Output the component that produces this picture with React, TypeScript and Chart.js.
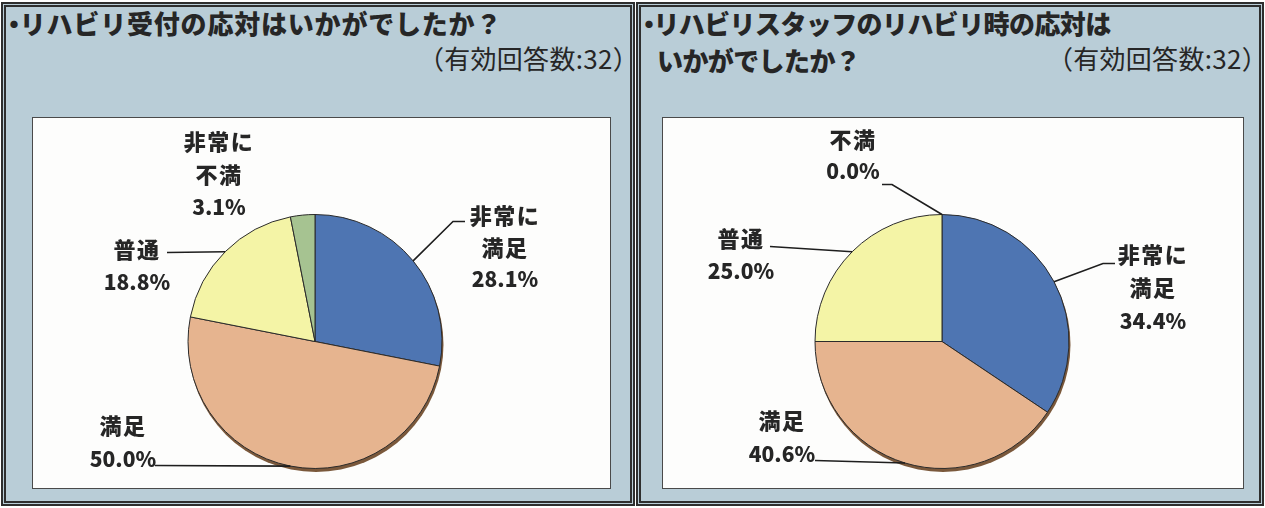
import React, { useEffect, useRef } from 'react';
import { Chart, registerables } from 'chart.js';

Chart.register(...registerables);

// ---------- data ----------
const q1Title = ['・リハビリ受付の応対はいかがでしたか？'];
const q1Categories = ['非常に満足', '満足', '普通', '非常に不満'];
const q1Values = [28.1, 50.0, 18.8, 3.1];

const q2Title = ['・リハビリスタッフのリハビリ時の応対は', 'いかがでしたか？'];
const q2Categories = ['非常に満足', '満足', '普通', '不満'];
const q2Values = [34.4, 40.6, 25.0, 0.0];

const responseNote = '（有効回答数:32）';

// ---------- styles ----------
const sliceColors: Record<string, string> = {
  '非常に満足': '#4e75b2',
  '満足': '#e6b48f',
  '普通': '#f4f4a6',
  '不満': '#b9a0c8',
  '非常に不満': '#a6c391',
};

const PANEL_BG = '#b9cdd7';
const TEXT = '#262626';
const FONT = '"Noto Sans CJK JP", "Noto Sans", sans-serif';

type LabelLayout = { dx: number; dy: number; lh: number; leader?: [number, number][] };

// label offsets relative to the pie centre (layout only)
const q1Layout: LabelLayout[] = [
  { dx: 190, dy: -126, lh: 32, leader: [[138, -120], [150, -120]] },
  { dx: -192, dy: 84, lh: 34, leader: [[-160, 124]] },
  { dx: -178, dy: -92, lh: 33, leader: [[-148, -89]] },
  { dx: -96, dy: -200, lh: 33 },
];
const q2Layout: LabelLayout[] = [
  { dx: 211, dy: -87, lh: 33.5, leader: [[161, -78], [173, -78]] },
  { dx: -160, dy: 79, lh: 34, leader: [[-127, 119]] },
  { dx: -201, dy: -103, lh: 33, leader: [[-172, -95]] },
  { dx: -89, dy: -202, lh: 32, leader: [[-50, -157], [-60, -157]] },
];

function wrapLabel(name: string): string[] {
  if (name.startsWith('非常に') && name.length > 3) return ['非常に', name.slice(3)];
  return [name];
}

type PieProps = {
  categories: string[];
  values: number[];
  layout: LabelLayout[];
  width: number;
  height: number;
  cx: number;
  cy: number;
  r: number;
};

function PieCanvas({ categories, values, layout, width, height, cx, cy, r }: PieProps) {
  const ref = useRef<HTMLCanvasElement | null>(null);
  useEffect(() => {
    if (!ref.current) return;
    const areaH = 2 * r + 1;
    const areaW = 2 * r + 40;
    const padTop = Math.round(cy - areaH / 2);
    const padLeft = Math.round(cx - areaW / 2);
    const plugin = {
      id: 'sliceLabels',
      beforeDatasetsDraw(chart: any) {
        const arc = chart.getDatasetMeta(0).data[0];
        if (!arc) return;
        const { x, y, outerRadius } = arc.getProps(['x', 'y', 'outerRadius'], true);
        const ctx = chart.ctx;
        ctx.save();
        ctx.fillStyle = '#7a583b';
        ctx.beginPath();
        ctx.arc(x + 1, y + 3, outerRadius + 0.5, 0, Math.PI * 2);
        ctx.fill();
        ctx.restore();
      },
      afterDatasetsDraw(chart: any) {
        const ctx = chart.ctx;
        const meta = chart.getDatasetMeta(0);
        ctx.save();
        meta.data.forEach((arc: any, i: number) => {
          const L = layout[i];
          if (!L) return;
          const { x, y, startAngle, endAngle, outerRadius } = arc.getProps(
            ['x', 'y', 'startAngle', 'endAngle', 'outerRadius'],
            true
          );
          const mid = (startAngle + endAngle) / 2;
          const ex = x + Math.cos(mid) * outerRadius;
          const ey = y + Math.sin(mid) * outerRadius;
          if (L.leader) {
            ctx.strokeStyle = '#1e1e1e';
            ctx.lineWidth = 1.6;
            ctx.beginPath();
            ctx.moveTo(ex, ey);
            L.leader.forEach(([px, py]) => ctx.lineTo(x + px, y + py));
            ctx.stroke();
          }
          const lines = [...wrapLabel(categories[i]), values[i].toFixed(1) + '%'];
          ctx.fillStyle = TEXT;
          ctx.textAlign = 'center';
          ctx.textBaseline = 'middle';
          lines.forEach((t, k) => {
            const isPct = k === lines.length - 1;
            ctx.font = isPct ? `900 21px ${FONT}` : `900 22px ${FONT}`;
            try { (ctx as any).letterSpacing = isPct ? '0px' : '1.5px'; } catch (e) {}
            ctx.fillText(t, x + L.dx, y + L.dy + k * L.lh);
          });
        });
        ctx.restore();
      },
    };
    const chart = new Chart(ref.current, {
      type: 'pie',
      data: {
        labels: categories,
        datasets: [
          {
            data: values,
            backgroundColor: categories.map((c) => sliceColors[c]),
            borderColor: '#2b2b2b',
            borderWidth: 1,
          },
        ],
      },
      options: {
        responsive: false,
        animation: false,
        devicePixelRatio: 1,
        layout: {
          padding: {
            top: padTop,
            bottom: height - padTop - areaH,
            left: padLeft,
            right: width - padLeft - areaW,
          },
        },
        plugins: {
          legend: { display: false },
          tooltip: { enabled: false },
          title: { display: false },
        },
      },
      plugins: [plugin],
    });
    return () => chart.destroy();
  }, []);
  return (
    <canvas
      ref={ref}
      width={width}
      height={height}
      style={{ display: 'block', width, height, background: '#fdfdfc' }}
    />
  );
}

type PanelProps = {
  left: number;
  width: number;
  title: string[];
  titleSpacing: number;
  plotLeft: number;
  plotWidth: number;
  children: React.ReactNode;
};

function Panel({ left, width, title, titleSpacing, plotLeft, plotWidth, children }: PanelProps) {
  return (
    <div
      style={{
        position: 'absolute',
        left,
        top: 2,
        width,
        height: 504,
        boxSizing: 'border-box',
        border: '5px double #2e2e2e',
        background: PANEL_BG,
      }}
    >
      {title.map((t, i) => (
        <div
          key={i}
          style={{
            position: 'absolute',
            left: i === 0 ? -5 : 16,
            top: 1 + i * 37,
            fontFamily: FONT,
            fontWeight: 900,
            fontSize: 26,
            lineHeight: '30px',
            color: TEXT,
            whiteSpace: 'nowrap',
            letterSpacing: titleSpacing,
          }}
        >
          {i === 0 && t.startsWith('・') ? (
            <>
              <span style={{ marginRight: -8 }}>・</span>
              {t.slice(1)}
            </>
          ) : (
            t
          )}
        </div>
      ))}
      <div
        style={{
          position: 'absolute',
          right: -9,
          top: 36,
          fontFamily: FONT,
          fontSize: 26,
          lineHeight: '30px',
          color: TEXT,
          whiteSpace: 'nowrap',
          letterSpacing: 0.3,
        }}
      >
        {responseNote}
      </div>
      <div
        style={{
          position: 'absolute',
          left: plotLeft,
          top: 110,
          width: plotWidth,
          height: 370,
          border: '1px solid #4a4a4a',
        }}
      >
        {children}
      </div>
    </div>
  );
}

export default function App() {
  return (
    <div
      style={{
        position: 'absolute',
        left: 0,
        top: 0,
        width: 1265,
        height: 508,
        background: '#ffffff',
        overflow: 'hidden',
      }}
    >
      <Panel left={1} width={634} title={q1Title} titleSpacing={0.8} plotLeft={26} plotWidth={577}>
        <PieCanvas
          categories={q1Categories}
          values={q1Values}
          layout={q1Layout}
          width={577}
          height={370}
          cx={282}
          cy={223}
          r={127}
        />
      </Panel>
      <Panel left={636} width={628} title={q2Title} titleSpacing={-0.6} plotLeft={21} plotWidth={580}>
        <PieCanvas
          categories={q2Categories}
          values={q2Values}
          layout={q2Layout}
          width={580}
          height={370}
          cx={279}
          cy={223}
          r={127}
        />
      </Panel>
    </div>
  );
}
